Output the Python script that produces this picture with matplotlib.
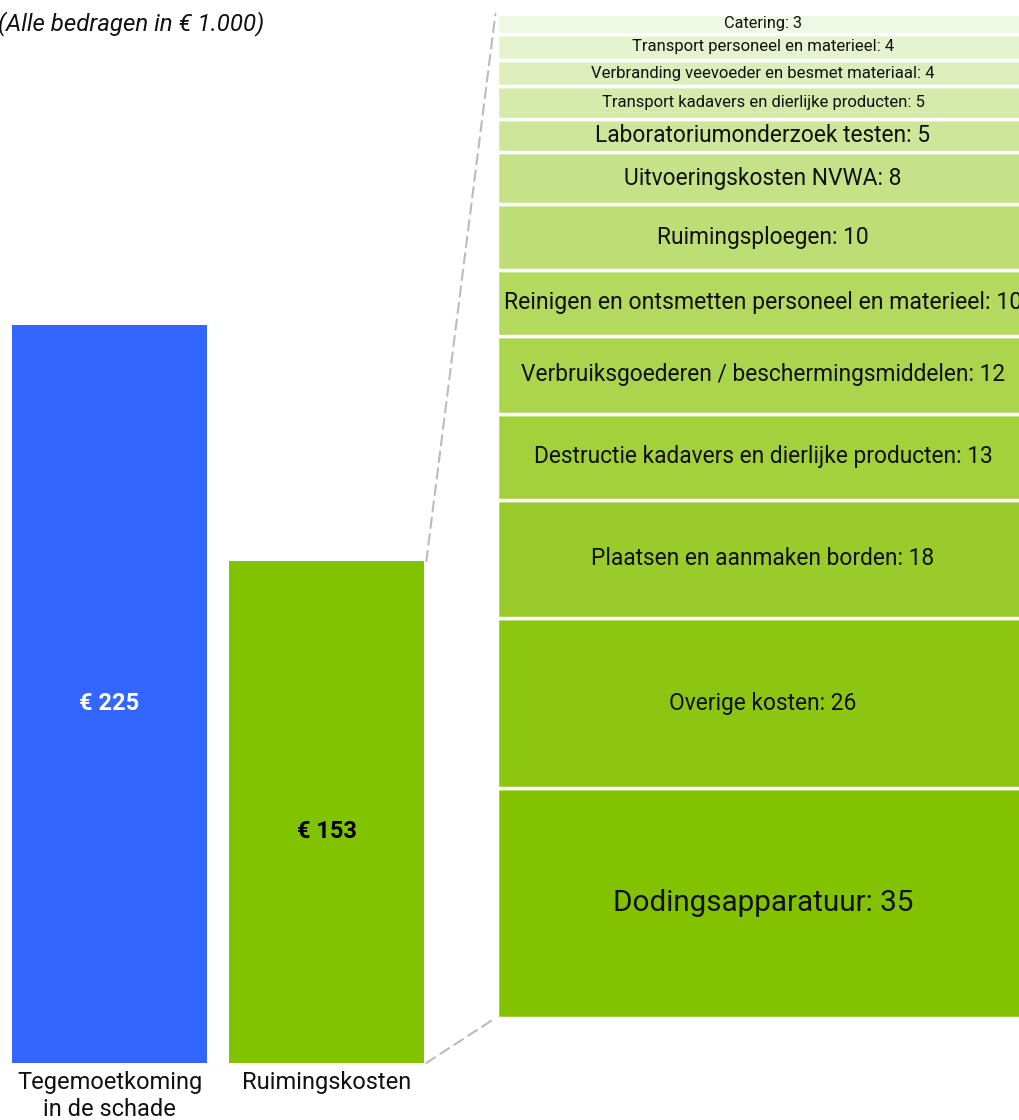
import matplotlib
matplotlib.use("Agg")
from matplotlib import pyplot as plt
from matplotlib.patches import ConnectionPatch

plt.rcParams['font.family'] = ['Roboto', 'DejaVu Sans']

# main comparison
categories = ["Tegemoetkoming\nin de schade", "Ruimingskosten"]
totals = [225, 153]
value_labels = ["€ 225", "€ 153"]

# breakdown of Ruimingskosten, bottom to top
cost_items = ["Dodingsapparatuur", "Overige kosten", "Plaatsen en aanmaken borden",
              "Destructie kadavers en dierlijke producten",
              "Verbruiksgoederen / beschermingsmiddelen",
              "Reinigen en ontsmetten personeel en materieel",
              "Ruimingsploegen", "Uitvoeringskosten NVWA",
              "Laboratoriumonderzoek testen",
              "Transport kadavers en dierlijke producten",
              "Verbranding veevoeder en besmet materiaal",
              "Transport personeel en materieel", "Catering"]
cost_values = [35, 26, 18, 13, 12, 10, 10, 8, 5, 5, 4, 4, 3]

item_colors = ["#82C200", "#8CC612", "#99CC2A", "#A3D13C", "#ABD54C", "#B3D95F",
               "#BCDE74", "#C5E288", "#CDE69A", "#D5EAAB", "#DDEEBC", "#E6F3CF",
               "#EFF8E2"]
item_fonts = [21.3, 16.4, 16.4, 16.4, 16.4, 16.6, 16.4, 16.4, 16.4, 12, 12, 12, 11.7]

fig = plt.figure(figsize=(10.19, 11.2), dpi=100)

ax = fig.add_axes([1/1019, 57/1120, 434/1019, 738/1120])
bars = ax.bar(range(len(totals)), totals, width=0.9,
              color=["#3366FF", "#82C300"])
ax.set_xlim(-0.5, 1.5)
ax.set_ylim(0, 225)
ax.axis('off')

offsets = [-3, -6]  # labels sit a little under the middle
for i, (v, lab) in enumerate(zip(totals, value_labels)):
    ax.text(i, v/2 + offsets[i], lab, ha='center', va='center', fontsize=17,
            fontweight='bold', color='white' if i == 0 else 'black')
for i, cat in enumerate(categories):
    ax.text(i, -2.3, cat, ha='center', va='top', fontsize=17, color='#111111',
            linespacing=1.25)

# stacked breakdown
ax2 = fig.add_axes([497/1019, 102/1120, 532/1019, 1004/1120])
bottom = 0
for name, v, c, fs in zip(cost_items, cost_values, item_colors, item_fonts):
    ax2.bar(0.5, v, width=1, bottom=bottom, color=c, edgecolor='white',
            linewidth=2.5)
    ax2.text(0.5, bottom + v/2, "%s: %d" % (name, v), ha='center',
             va='center', fontsize=fs, color='#111111')
    bottom += v
ax2.set_xlim(0, 1)
ax2.set_ylim(0, sum(cost_values))
ax2.axis('off')

# dashed connectors
right = 1 + 0.9/2 + 0.01
for yv, y2 in [(totals[1], sum(cost_values)), (0, 0)]:
    con = ConnectionPatch(xyA=(right, yv), coordsA=ax.transData,
                          xyB=(-0.003, y2), coordsB=ax2.transData,
                          color='#BBBBBB', linestyle=(0, (5, 3)), linewidth=1.5)
    fig.add_artist(con)

fig.text(-0.002, 1 - 24/1120, "(Alle bedragen in € 1.000)", ha='left',
         va='center', fontsize=17.3, fontstyle='italic', color='#111111')

fig.savefig("out.png", dpi=100)
